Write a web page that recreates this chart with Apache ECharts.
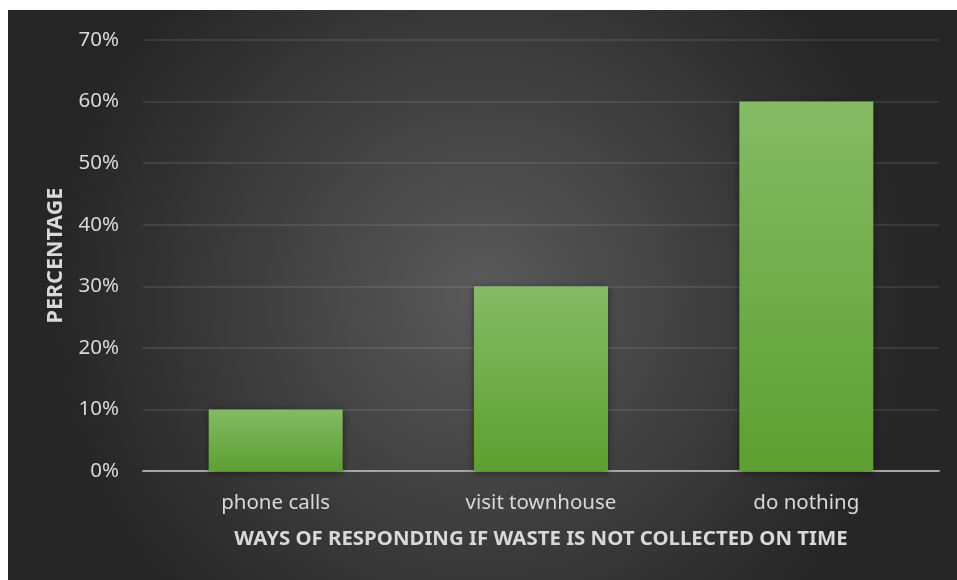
<!DOCTYPE html>
<html>
<head>
<meta charset="utf-8">
<script src="https://cdn.jsdelivr.net/npm/echarts@6/dist/echarts.min.js"></script>
<style>
  html, body { margin: 0; padding: 0; background: #ffffff; }
  #chart { position: absolute; left: 8px; top: 10px; width: 949px; height: 570px; }
</style>
</head>
<body>
<div id="chart"></div>
<script>
// Survey responses: how residents react when waste is not collected on time
const categories = ['phone calls', 'visit townhouse', 'do nothing'];
const percentages = [10, 30, 60];
const yTicks = [0, 10, 20, 30, 40, 50, 60, 70];

const textColor = '#d9d9d9';
const fontFamily = '"Noto Sans", "Open Sans", sans-serif';

const chart = echarts.init(document.getElementById('chart'), null, { renderer: 'canvas' });

chart.setOption({
  backgroundColor: {
    type: 'radial', x: 0.5, y: 0.5, r: 0.75,
    colorStops: [
      { offset: 0, color: '#5a5a5a' },
      { offset: 1, color: '#262626' }
    ]
  },
  animation: false,
  grid: { left: 135, right: 18, top: 30, bottom: 109, containLabel: false },
  xAxis: {
    type: 'category',
    data: categories,
    name: 'WAYS OF RESPONDING IF WASTE IS NOT COLLECTED ON TIME',
    nameLocation: 'middle',
    nameGap: 58,
    nameTextStyle: { color: textColor, fontFamily, fontSize: 20.4, fontWeight: 'bold' },
    axisLine: { lineStyle: { color: '#a6a6a6', width: 2 } },
    axisTick: { show: false },
    axisLabel: { color: textColor, fontFamily, fontSize: 20.5, margin: 22 }
  },
  yAxis: {
    type: 'value',
    min: yTicks[0],
    max: yTicks[yTicks.length - 1],
    interval: yTicks[1] - yTicks[0],
    name: 'PERCENTAGE',
    nameLocation: 'middle',
    nameGap: 76,
    nameRotate: 90,
    nameTextStyle: { color: textColor, fontFamily, fontSize: 21.5, fontWeight: 'bold' },
    axisLine: { show: false },
    axisTick: { show: false },
    axisLabel: { color: textColor, fontFamily, fontSize: 20.5, margin: 24, formatter: '{value}%' },
    splitLine: { lineStyle: { color: 'rgba(255,255,255,0.12)', width: 1.5 } }
  },
  series: [{
    type: 'bar',
    data: percentages,
    barWidth: '50.5%',
    itemStyle: {
      color: {
        type: 'linear', x: 0, y: 0, x2: 0, y2: 1,
        colorStops: [
          { offset: 0, color: '#85bb65' },
          { offset: 1, color: '#5d9f30' }
        ]
      },
      shadowBlur: 8,
      shadowColor: 'rgba(0,0,0,0.45)',
      shadowOffsetY: 2
    }
  }]
});
</script>
</body>
</html>
